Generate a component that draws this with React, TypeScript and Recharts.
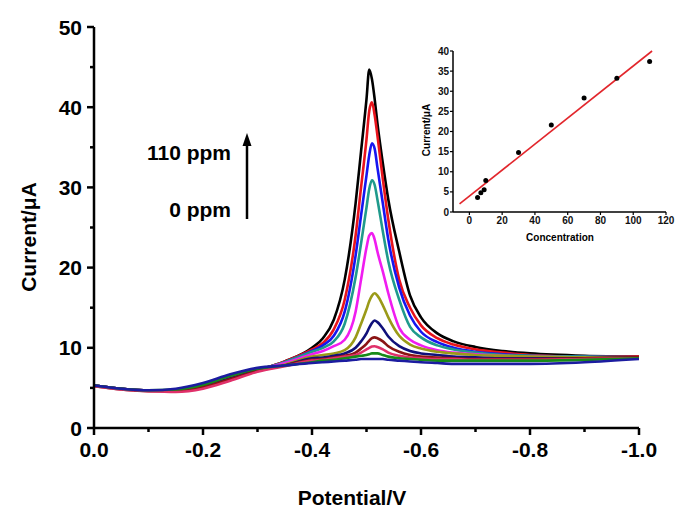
import { LineChart, Line, XAxis, YAxis, ComposedChart, Scatter } from 'recharts';

// potential (V), swept from 0 to -1.0
const potentials = [0, -0.05, -0.1, -0.15, -0.2, -0.25, -0.3, -0.35, -0.4, -0.42, -0.44, -0.46, -0.48, -0.49, -0.5, -0.505, -0.51, -0.515, -0.52, -0.53, -0.54, -0.56, -0.58, -0.6, -0.63, -0.66, -0.7, -0.75, -0.8, -0.9, -1.0];

// current (uA), one array per trace, highest concentration first
const curBlack = [5.3, 4.9, 4.7, 4.7, 5.2, 6.2, 7.2, 8.3, 10.0, 11.2, 13.5, 18.5, 28, 34.5, 41, 44.7, 43.5, 41, 38, 33, 28.5, 22, 16.5, 13.8, 11.8, 10.8, 10.1, 9.6, 9.3, 9.0, 8.9];
const curRed = [5.3, 4.9, 4.7, 4.7, 5.2, 6.2, 7.2, 8.3, 9.8, 10.6, 12.3, 16, 24, 30, 36, 39.5, 40.6, 39, 36.5, 31, 26, 18.5, 15, 12.8, 11.2, 10.4, 9.8, 9.4, 9.1, 8.9, 8.9];
const curBlue = [5.3, 4.9, 4.7, 4.7, 5.2, 6.2, 7.2, 8.2, 9.6, 10.3, 11.5, 14.5, 21.5, 26.5, 31.5, 34, 35.5, 34.8, 32.5, 28, 23.5, 17.5, 14, 12, 10.7, 10.0, 9.5, 9.2, 9.0, 8.9, 8.8];
const curTeal = [5.3, 4.9, 4.7, 4.7, 5.2, 6.2, 7.2, 8.2, 9.5, 10.0, 10.8, 13, 18.8, 23, 27.5, 29.8, 30.9, 30.3, 28.5, 24.5, 20.8, 16, 12.6, 11.3, 10.3, 9.8, 9.4, 9.1, 9.0, 8.9, 8.8];
const curMagenta = [5.3, 4.9, 4.7, 4.7, 5.2, 6.2, 7.2, 8.1, 9.2, 9.6, 10.2, 11.0, 14.5, 18.5, 22.5, 24, 24.3, 23.5, 22, 19.5, 16.8, 12.5, 11.0, 10.3, 9.7, 9.4, 9.2, 9.0, 8.9, 8.8, 8.8];
const curOlive = [5.3, 4.9, 4.7, 4.7, 5.2, 6.2, 7.2, 7.9, 8.9, 9.1, 9.3, 9.7, 11.3, 13.0, 14.8, 15.8, 16.5, 16.8, 16.5, 15.3, 13.8, 11.5, 10.4, 9.9, 9.5, 9.3, 9.1, 9.0, 8.9, 8.8, 8.8];
const curNavy = [5.3, 4.9, 4.7, 4.7, 5.2, 6.2, 7.2, 7.8, 8.7, 8.8, 9.0, 9.3, 10.0, 10.8, 11.8, 12.5, 13.1, 13.4, 13.2, 12.4, 11.4, 10.2, 9.6, 9.3, 9.1, 8.9, 8.8, 8.7, 8.7, 8.7, 8.8];
const curMaroon = [5.2, 4.8, 4.6, 4.6, 5.1, 6.1, 7.1, 7.8, 8.5, 8.6, 8.8, 9.0, 9.4, 9.9, 10.5, 10.9, 11.2, 11.3, 11.2, 10.8, 10.2, 9.5, 9.1, 8.9, 8.8, 8.7, 8.6, 8.6, 8.6, 8.7, 8.8];
const curCrimson = [5.2, 4.8, 4.6, 4.5, 4.9, 5.9, 7.0, 7.7, 8.4, 8.5, 8.7, 8.9, 9.1, 9.4, 9.8, 10.0, 10.15, 10.2, 10.1, 9.8, 9.4, 9.0, 8.8, 8.7, 8.6, 8.6, 8.5, 8.5, 8.5, 8.6, 8.7];
const curGreen = [5.3, 4.9, 4.7, 4.8, 5.4, 6.5, 7.4, 7.8, 8.2, 8.4, 8.5, 8.7, 8.9, 9.0, 9.1, 9.2, 9.3, 9.3, 9.3, 9.1, 8.9, 8.7, 8.6, 8.5, 8.4, 8.4, 8.4, 8.4, 8.4, 8.5, 8.7];
const curBase = [5.3, 4.9, 4.7, 4.9, 5.6, 6.7, 7.5, 7.8, 8.1, 8.2, 8.3, 8.4, 8.5, 8.6, 8.6, 8.6, 8.6, 8.6, 8.6, 8.6, 8.5, 8.4, 8.3, 8.2, 8.1, 8.0, 8.0, 8.0, 8.0, 8.2, 8.6];

const traces = [curBlack, curRed, curBlue, curTeal, curMagenta, curOlive, curNavy, curMaroon, curCrimson, curGreen, curBase];
const traceColors = ['#000000', '#e8141c', '#1616f0', '#1f9a8c', '#f01cf0', '#9a9a18', '#10107a', '#8a1414', '#e0306a', '#188a18', '#1c1ca0'];

const xTicks = [0, -0.1, -0.2, -0.3, -0.4, -0.5, -0.6, -0.7, -0.8, -0.9, -1.0];
const yTicks = [0, 5, 10, 15, 20, 25, 30, 35, 40, 45, 50];

// inset: calibration plot
const concentrations = [5, 7, 9, 10, 30, 50, 70, 90, 110];
const peakCurrents = [3.6, 4.8, 5.5, 7.8, 14.8, 21.6, 28.3, 33.2, 37.4];
const fitX = [-6, 111.5];
const fitY = [2.0, 40];
const insetXTicks = [0, 20, 40, 60, 80, 100, 120];
const insetYTicks = [0, 5, 10, 15, 20, 25, 30, 35, 40];

const FONT = '"Liberation Sans", Arial, sans-serif';

const rows = potentials.map((p, i) => {
  const r: any = { p };
  traces.forEach((t, k) => (r['s' + k] = t[i]));
  return r;
});

const pointRows = concentrations.map((c, i) => ({ x: c, y: peakCurrents[i] }));
const fitRows = fitX.map((x, i) => ({ x, y: fitY[i] }));

const fmtX = (v: number) => (v === 0 ? '0.0' : v.toFixed(1));

const XTick = ({ x, y, payload }: any) => {
  const v = payload.value;
  const major = Math.round(v * 10) % 2 === 0;
  return (
    <g>
      <line x1={x} y1={y} x2={x} y2={y + (major ? 7 : 4)} stroke="#000" strokeWidth={2.5} />
      {major && (
        <text x={x} y={y + 29} textAnchor="middle" fontFamily={FONT} fontWeight="bold" fontSize={21} fill="#000">
          {fmtX(v)}
        </text>
      )}
    </g>
  );
};

const YTick = ({ x, y, payload }: any) => {
  const v = payload.value;
  const major = v % 10 === 0;
  return (
    <g>
      <line x1={x - (major ? 7 : 4)} y1={y} x2={x} y2={y} stroke="#000" strokeWidth={2.5} />
      {major && (
        <text x={x - 12} y={y + 7.5} textAnchor="end" fontFamily={FONT} fontWeight="bold" fontSize={21} fill="#000">
          {v}
        </text>
      )}
    </g>
  );
};

const Dot = (p: any) => <circle cx={p.cx} cy={p.cy} r={2.5} fill="#000" />;

const insetTick = { fontFamily: FONT, fontWeight: 'bold', fontSize: 10, fill: '#111' };

export default function App() {
  return (
    <div style={{ position: 'fixed', left: 0, top: 0, width: 676, height: 517, background: '#fff' }}>
      <div style={{ position: 'absolute', left: 0, top: 0 }}>
        <LineChart width={676} height={517} data={rows} margin={{ top: 27, right: 37, left: 34, bottom: 59 }}>
          <XAxis
            dataKey="p"
            type="number"
            domain={[-1, 0]}
            reversed
            ticks={xTicks}
            interval={0}
            height={30}
            tickSize={0}
            tickMargin={0}
            tickLine={false}
            tick={<XTick />}
            axisLine={{ stroke: '#000', strokeWidth: 2.5 }}
          />
          <YAxis
            type="number"
            domain={[0, 50]}
            ticks={yTicks}
            interval={0}
            width={60}
            tickSize={0}
            tickMargin={0}
            tickLine={false}
            tick={<YTick />}
            axisLine={{ stroke: '#000', strokeWidth: 2.5 }}
          />
          {traces.map((_, k) => (
            <Line
              key={k}
              type="monotone"
              dataKey={'s' + k}
              stroke={traceColors[k]}
              strokeWidth={2.6}
              dot={false}
              isAnimationActive={false}
            />
          ))}
        </LineChart>
      </div>

      <div style={{ position: 'absolute', left: 400, top: 30 }}>
        <ComposedChart width={276} height={230} margin={{ top: 21, right: 10, left: 23, bottom: 28 }}>
          <XAxis
            dataKey="x"
            type="number"
            domain={[-10, 120]}
            ticks={insetXTicks}
            interval={0}
            height={20}
            tickSize={3}
            tickMargin={2}
            tick={insetTick}
            tickLine={{ stroke: '#000', strokeWidth: 1.2 }}
            axisLine={{ stroke: '#000', strokeWidth: 1.5 }}
          />
          <YAxis
            type="number"
            domain={[0, 40]}
            ticks={insetYTicks}
            interval={0}
            width={30}
            tickSize={3}
            tickMargin={1}
            tick={insetTick}
            tickLine={{ stroke: '#000', strokeWidth: 1.2 }}
            axisLine={{ stroke: '#000', strokeWidth: 1.5 }}
          />
          <Line
            data={fitRows}
            dataKey="y"
            type="linear"
            stroke="#e2262c"
            strokeWidth={1.6}
            dot={false}
            isAnimationActive={false}
          />
          <Scatter data={pointRows} dataKey="y" fill="#000" shape={<Dot />} isAnimationActive={false} />
        </ComposedChart>
      </div>

      <svg width={676} height={517} style={{ position: 'absolute', left: 0, top: 0, pointerEvents: 'none' }}>
        <g fontFamily={FONT} fontWeight="bold" fill="#000">
          <text x={28} y={237} fontSize={21} textAnchor="middle" dominantBaseline="central" transform="rotate(-90 28 237)">
            Current/μA
          </text>
          <text x={352} y={505} fontSize={21} textAnchor="middle">
            Potential/V
          </text>
          <text x={231} y={160} fontSize={21} textAnchor="end">
            110 ppm
          </text>
          <text x={231} y={217} fontSize={21} textAnchor="end">
            0 ppm
          </text>
          <text x={560} y={241} fontSize={10} textAnchor="middle">
            Concentration
          </text>
          <text x={426} y={130} fontSize={10} textAnchor="middle" dominantBaseline="central" transform="rotate(-90 426 130)">
            Current/μA
          </text>
        </g>
        <line x1={247} y1={219} x2={247} y2={143} stroke="#000" strokeWidth={2.5} />
        <polygon points="247,133 242.5,146 251.5,146" fill="#000" />
      </svg>
    </div>
  );
}
